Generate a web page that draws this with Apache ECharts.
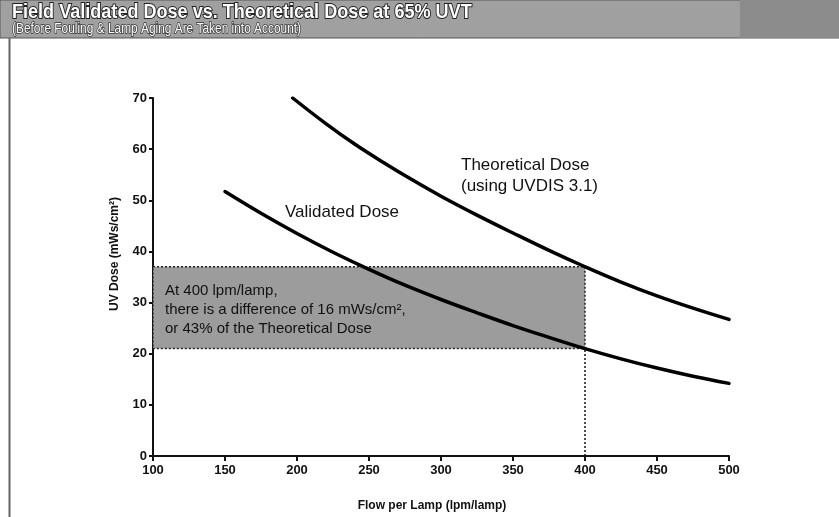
<!DOCTYPE html>
<html>
<head>
<meta charset="utf-8">
<script src="https://cdn.jsdelivr.net/npm/echarts@6/dist/echarts.min.js"></script>
<style>
  html, body { margin: 0; padding: 0; background: #fff; }
  #chart { width: 839px; height: 517px; }
</style>
</head>
<body>
<div id="chart"></div>
<script>
// Theoretical dose curve (UVDIS 3.1), flow in lpm/lamp vs dose in mWs/cm²
const theoFlow = [197, 220, 240, 260, 280, 300, 325, 350, 375, 400, 425, 450, 475, 500];
const theoDose = [70, 65.0, 61.0, 57.4, 54.0, 50.8, 47.1, 43.6, 40.2, 37.0, 34.0, 31.3, 28.9, 26.7];

// Field validated dose curve
const valFlow = [150, 175, 200, 225, 250, 275, 300, 325, 350, 375, 400, 425, 450, 475, 500];
const valDose = [51.7, 47.45, 43.5, 39.85, 36.5, 33.4, 30.6, 28.0, 25.5, 23.2, 21.0, 19.0, 17.2, 15.6, 14.2];

// Comparison point highlighted by the shaded box
const refFlow = 400;
const refTheo = 37;
const refVal = 21;

const xTicks = [100, 150, 200, 250, 300, 350, 400, 450, 500];
const yTicks = [0, 10, 20, 30, 40, 50, 60, 70];

const FONT = '"Liberation Sans", Arial, Helvetica, sans-serif';

const chart = echarts.init(document.getElementById('chart'), null, { renderer: 'canvas' });

const pairs = (xs, ys) => xs.map((x, i) => [x, ys[i]]);

chart.setOption({
  animation: false,
  backgroundColor: '#ffffff',
  grid: { left: 153, right: 110, top: 98, bottom: 59, containLabel: false },
  xAxis: {
    type: 'value',
    min: xTicks[0],
    max: xTicks[xTicks.length - 1],
    interval: 50,
    name: 'Flow per Lamp (lpm/lamp)',
    nameLocation: 'middle',
    nameGap: 44,
    nameTextStyle: { fontFamily: FONT, fontWeight: 'bold', fontSize: 12, color: '#111', padding: [0, 18, 0, 0] },
    axisLine: { show: true, lineStyle: { color: '#111', width: 2 } },
    axisTick: { show: true, inside: false, length: 5, lineStyle: { color: '#111', width: 2 } },
    axisLabel: { fontFamily: FONT, fontWeight: 'bold', fontSize: 13, color: '#111', margin: 8 },
    splitLine: { show: false }
  },
  yAxis: {
    type: 'value',
    min: yTicks[0],
    max: yTicks[yTicks.length - 1],
    interval: 10,
    axisLine: { show: true, lineStyle: { color: '#111', width: 2 } },
    axisTick: { show: true, inside: false, length: 4, lineStyle: { color: '#111', width: 2 } },
    axisLabel: { fontFamily: FONT, fontWeight: 'bold', fontSize: 13, color: '#111', margin: 6 },
    splitLine: { show: false }
  },
  series: [
    {
      // shaded comparison box and dotted drop line at the reference flow
      type: 'line',
      data: [],
      z: 1,
      markArea: {
        silent: true,
        itemStyle: { color: '#9c9c9c', borderColor: '#222', borderWidth: 1.5, borderType: [2, 2] },
        data: [[{ coord: [xTicks[0], refTheo] }, { coord: [refFlow, refVal] }]]
      },
      markLine: {
        silent: true,
        symbol: ['none', 'none'],
        label: { show: false },
        lineStyle: { color: '#111', width: 1.5, type: [2, 2] },
        data: [[{ coord: [refFlow, 0] }, { coord: [refFlow, refVal] }]]
      }
    },
    {
      name: 'Theoretical Dose',
      type: 'line',
      z: 3,
      smooth: 0.4,
      symbol: 'none',
      lineStyle: { color: '#000', width: 3.5, cap: 'round' },
      data: pairs(theoFlow, theoDose)
    },
    {
      name: 'Validated Dose',
      type: 'line',
      z: 3,
      smooth: 0.4,
      symbol: 'none',
      lineStyle: { color: '#000', width: 3.5, cap: 'round' },
      data: pairs(valFlow, valDose)
    }
  ],
  graphic: [
    // heading banner
    {
      type: 'rect', z: 0,
      shape: { x: 0, y: 0, width: 839, height: 38 },
      style: { fill: '#a0a0a0', stroke: '#555', lineWidth: 1 }
    },
    {
      type: 'rect', z: 0,
      shape: { x: 740, y: 0, width: 99, height: 38 },
      style: { fill: '#8c8c8c' }
    },
    {
      type: 'text', x: 12, y: 2, z: 10, scaleX: 0.86,
      style: {
        text: 'Field Validated Dose vs. Theoretical Dose at 65% UVT',
        font: 'bold 21px ' + FONT, fill: '#ffffff', stroke: '#222', lineWidth: 2
      }
    },
    {
      type: 'text', x: 12, y: 22, z: 10, scaleX: 0.85,
      style: {
        text: '(Before Fouling & Lamp Aging Are Taken into Account)',
        font: '14px ' + FONT, fill: '#ffffff', stroke: '#333', lineWidth: 1.5
      }
    },
    // left frame edge
    {
      type: 'line', z: 0,
      shape: { x1: 9.5, y1: 38, x2: 9.5, y2: 517 },
      style: { stroke: '#666', lineWidth: 2 }
    },
    // y axis title
    {
      type: 'text', z: 10,
      x: 115, y: 254, rotation: Math.PI / 2,
      style: {
        text: 'UV Dose (mWs/cm²)',
        font: 'bold 12px ' + FONT, fill: '#111',
        align: 'center', verticalAlign: 'middle'
      }
    },
    // curve labels
    {
      type: 'text', z: 10, left: 461, top: 157,
      style: { text: 'Theoretical Dose', font: '17px ' + FONT, fill: '#111' }
    },
    {
      type: 'text', z: 10, left: 461, top: 178,
      style: { text: '(using UVDIS 3.1)', font: '17px ' + FONT, fill: '#111' }
    },
    {
      type: 'text', z: 10, left: 285, top: 204,
      style: { text: 'Validated Dose', font: '17px ' + FONT, fill: '#111' }
    },
    // box annotation
    {
      type: 'text', z: 10, left: 165, top: 281,
      style: {
        text: 'At 400 lpm/lamp,\nthere is a difference of 16 mWs/cm²,\nor 43% of the Theoretical Dose',
        font: '15px ' + FONT, fill: '#111', lineHeight: 19
      }
    }
  ]
});
</script>
</body>
</html>
